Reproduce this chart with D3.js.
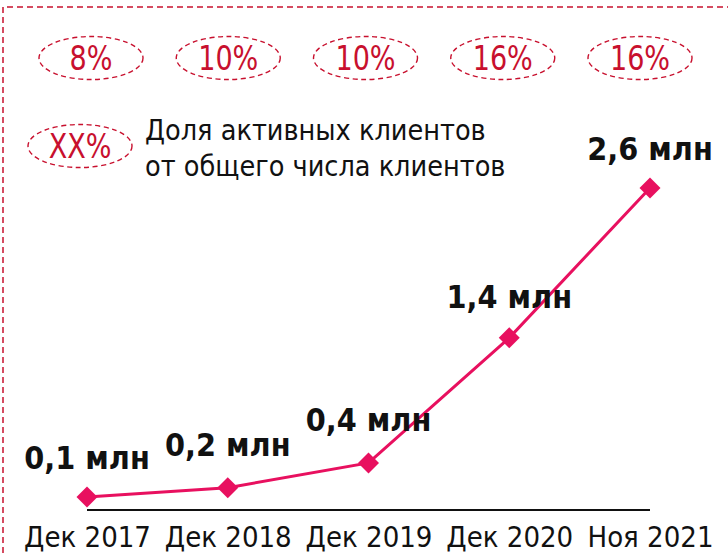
<!DOCTYPE html>
<html><head><meta charset="utf-8">
<script src="https://cdn.jsdelivr.net/npm/d3@7"></script>
<style>body{margin:0;background:#fff}svg{display:block}</style>
</head><body>
<svg id="c" width="728" height="553"></svg>
<script>
const categories = ["Дек 2017","Дек 2018","Дек 2019","Дек 2020","Ноя 2021"];
const clients = [0.105, 0.18, 0.38, 1.39, 2.6];
const valueLabels = ["0,1 млн","0,2 млн","0,4 млн","1,4 млн","2,6 млн"];
const activeShare = ["8%","10%","10%","16%","16%"];
const legendBadge = "XX%";
const legendText = ["Доля активных клиентов","от общего числа клиентов"];

const svg = d3.select("#c");
const font = "'DejaVu Sans Condensed','DejaVu Sans',sans-serif";
const red = "#c8102e", pink = "#e8105f";

// dashed frame
svg.append("path").attr("d","M3,553 L3,7 L728,7")
  .attr("fill","none").attr("stroke",red).attr("stroke-width",1.5).attr("stroke-dasharray","6,4");

const x = d3.scalePoint().domain(categories).range([87,650]);
const y = d3.scaleLinear().domain([0,2.6]).range([510,188]);

// share ellipses
const sx = d3.scalePoint().domain(categories).range([91,640]);
const g = svg.append("g");
function badge(cx, cy, t){
  g.append("ellipse").attr("cx",cx).attr("cy",cy).attr("rx",52).attr("ry",21.5)
    .attr("fill","none").attr("stroke",red).attr("stroke-width",1.4).attr("stroke-dasharray","5,3.5");
  g.append("text").attr("transform",`translate(${cx},${cy+12}) scale(0.97,1.1)`).attr("text-anchor","middle")
    .attr("font-family",font).attr("font-size",31).attr("fill",red).text(t);
}
categories.forEach((c,i)=>badge(sx(c),58,activeShare[i]));
badge(80,146,legendBadge);
legendText.forEach((t,i)=>{
  g.append("text").attr("x",145).attr("y",140+i*36).attr("font-family",font)
    .attr("font-size",28.5).attr("fill","#111").text(t);
});

// axis baseline
const axis = d3.axisBottom(x).tickSize(0);
const ag = svg.append("g").attr("transform","translate(0,510)").call(axis);
ag.select(".domain").attr("d",`M${x(categories[0])},0H${x(categories[4])}`).attr("stroke","#111").attr("stroke-width",2);
ag.selectAll("text").attr("font-family",font).attr("font-size",29).attr("fill","#111").attr("y",37).attr("dy",0);

// line
const line = d3.line().x((d,i)=>x(categories[i])).y(d=>y(d));
svg.append("path").datum(clients).attr("d",line).attr("fill","none")
  .attr("stroke",pink).attr("stroke-width",3);
svg.selectAll(".pt").data(clients).join("path")
  .attr("d",d3.symbol(d3.symbolSquare,220)())
  .attr("transform",(d,i)=>`translate(${x(categories[i])},${y(d)}) rotate(45)`)
  .attr("fill",pink);

// value labels
const lblOff = [28, 32, 32, 30, 28];
svg.selectAll(".vl").data(clients).join("text")
  .attr("x",(d,i)=>x(categories[i])).attr("y",(d,i)=>y(d)-lblOff[i])
  .attr("text-anchor","middle").attr("font-family",font).attr("font-weight","bold")
  .attr("font-size",32).attr("fill","#111").text((d,i)=>valueLabels[i]);
</script>
</body></html>
